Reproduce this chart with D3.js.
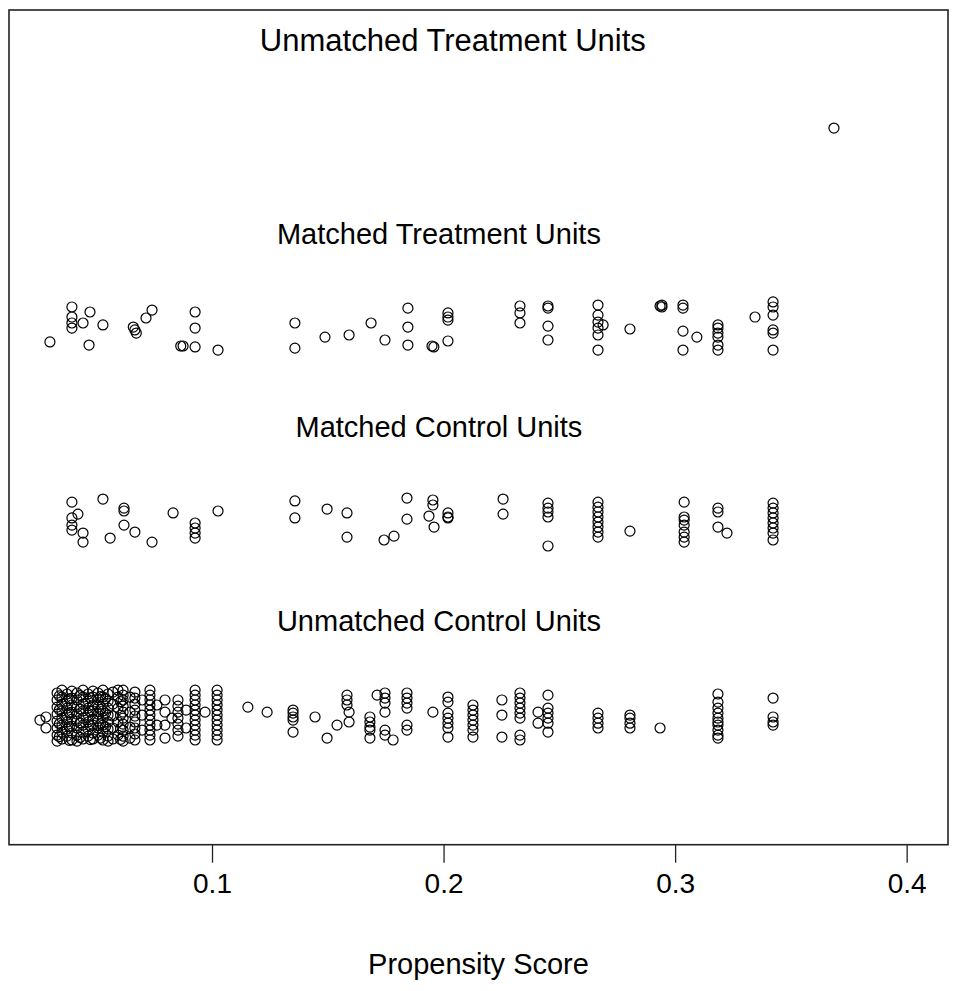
<!DOCTYPE html>
<html>
<head>
<meta charset="utf-8">
<script src="https://cdn.jsdelivr.net/npm/d3@7"></script>
<style>
  body { margin: 0; background: #fff; }
  text { font-family: "Liberation Sans", Arial, sans-serif; fill: #000; }
</style>
</head>
<body>
<div id="chart"></div>
<script>
// each entry: [propensity score, [jittered y values]]
const unmatchedTreatment = [
  [0.3686, [2.049]]
];

const matchedTreatment = [
  [0.0300, [0.942]],
  [0.0395, [1.123, 1.071, 1.040, 1.014]],
  [0.0443, [1.040]],
  [0.0469, [0.926]],
  [0.0473, [1.097]],
  [0.0529, [1.030]],
  [0.0660, [1.019]],
  [0.0667, [1.004]],
  [0.0673, [0.988]],
  [0.0715, [1.066]],
  [0.0741, [1.107]],
  [0.0865, [0.921]],
  [0.0875, [0.921]],
  [0.0927, [1.097, 1.014, 0.916]],
  [0.1026, [0.900]],
  [0.1358, [1.040, 0.910]],
  [0.1488, [0.967]],
  [0.1592, [0.978]],
  [0.1687, [1.040]],
  [0.1747, [0.952]],
  [0.1846, [1.117, 1.019, 0.926]],
  [0.1950, [0.921]],
  [0.1958, [0.916]],
  [0.2019, [1.092, 1.071, 1.055, 0.947]],
  [0.2330, [1.128, 1.092, 1.040]],
  [0.2451, [1.128, 1.117, 1.024, 0.952]],
  [0.2667, [1.133, 1.081, 1.045, 1.014, 0.978, 0.900]],
  [0.2689, [1.030]],
  [0.2805, [1.009]],
  [0.2935, [1.128]],
  [0.2943, [1.133, 1.123]],
  [0.3034, [1.133, 1.117, 0.998, 0.900]],
  [0.3094, [0.967]],
  [0.3185, [1.030, 1.014, 0.988, 0.967, 0.926, 0.900]],
  [0.3345, [1.071]],
  [0.3423, [1.149, 1.123, 1.081, 1.004, 0.988, 0.900]]
];

const matchedControl = [
  [0.0395, [0.113, 0.031, -0.006, -0.032]],
  [0.0421, [0.051]],
  [0.0443, [-0.047, -0.094]],
  [0.0529, [0.129]],
  [0.0560, [-0.073]],
  [0.0620, [0.082, 0.067, -0.006]],
  [0.0667, [-0.042]],
  [0.0741, [-0.094]],
  [0.0832, [0.057]],
  [0.0927, [0.005, -0.021, -0.047, -0.073]],
  [0.1026, [0.067]],
  [0.1358, [0.119, 0.031]],
  [0.1497, [0.077]],
  [0.1583, [0.057, -0.068]],
  [0.1743, [-0.083]],
  [0.1786, [-0.063]],
  [0.1842, [0.134, 0.025]],
  [0.1937, [0.041]],
  [0.1954, [0.124, 0.098]],
  [0.1959, [-0.016]],
  [0.2019, [0.057, 0.036, 0.031]],
  [0.2257, [0.129, 0.051]],
  [0.2451, [0.108, 0.082, 0.062, 0.036, -0.114]],
  [0.2667, [0.113, 0.087, 0.062, 0.036, 0.010, -0.016, -0.042, -0.068]],
  [0.2805, [-0.037]],
  [0.3039, [0.113, 0.036, 0.020, -0.006, -0.042, -0.068, -0.094]],
  [0.3185, [0.082, 0.062, -0.016]],
  [0.3224, [-0.047]],
  [0.3423, [0.108, 0.082, 0.057, 0.031, 0.005, -0.021, -0.047, -0.083]]
];

const unmatchedControl = [
  [0.0257, [-1.015]],
  [0.0283, [-0.999, -1.056]],
  [0.0331, [-0.875, -0.911, -0.948, -0.984, -1.020, -1.056, -1.093, -1.124]],
  [0.0341, [-0.890, -0.962, -1.034, -1.101]],
  [0.0352, [-0.860, -0.896, -0.932, -0.968, -1.005, -1.041, -1.077, -1.113]],
  [0.0374, [-0.880, -0.917, -0.953, -0.989, -1.025, -1.062, -1.098]],
  [0.0384, [-0.905, -0.978, -1.050, -1.120]],
  [0.0395, [-0.865, -0.901, -0.937, -0.974, -1.010, -1.046, -1.082, -1.118]],
  [0.0417, [-0.875, -0.911, -0.948, -0.984, -1.020, -1.056, -1.093, -1.124]],
  [0.0430, [-0.888, -0.958, -1.030, -1.105]],
  [0.0443, [-0.860, -0.896, -0.932, -0.968, -1.005, -1.041, -1.077, -1.113]],
  [0.0465, [-0.880, -0.917, -0.953, -0.989, -1.025, -1.062, -1.098]],
  [0.0475, [-0.900, -0.970, -1.045, -1.116]],
  [0.0486, [-0.865, -0.896, -0.937, -0.968, -1.010, -1.041, -1.082, -1.113]],
  [0.0508, [-0.875, -0.911, -0.948, -0.984, -1.020, -1.056, -1.093]],
  [0.0519, [-0.893, -0.960, -1.035, -1.108]],
  [0.0529, [-0.860, -0.896, -0.932, -0.968, -1.005, -1.041, -1.077, -1.118]],
  [0.0540, [-0.905, -0.980, -1.050]],
  [0.0551, [-0.880, -0.917, -0.953, -0.989, -1.025, -1.062, -1.098, -1.124]],
  [0.0572, [-0.870, -0.932, -0.994, -1.056, -1.113]],
  [0.0594, [-0.860, -0.896, -0.953, -1.025, -1.093]],
  [0.0605, [-0.920, -0.990, -1.060, -1.115]],
  [0.0616, [-0.860, -0.886, -0.911, -0.943, -0.974, -1.005, -1.036, -1.067, -1.098, -1.124]],
  [0.0646, [-0.896, -0.974, -1.051, -1.108]],
  [0.0667, [-0.870, -0.901, -0.932, -0.963, -0.994, -1.025, -1.056, -1.087, -1.118]],
  [0.0698, [-0.911, -0.989, -1.067]],
  [0.0732, [-0.860, -0.886, -0.911, -0.937, -0.963, -0.989, -1.015, -1.041, -1.067, -1.093, -1.118]],
  [0.0762, [-0.937, -1.041]],
  [0.0797, [-0.911, -0.974, -1.041, -1.108]],
  [0.0827, [-1.005]],
  [0.0853, [-0.911, -0.943, -0.974, -1.005, -1.036, -1.067, -1.098]],
  [0.0888, [-0.963, -1.056]],
  [0.0927, [-0.860, -0.886, -0.911, -0.937, -0.963, -0.989, -1.015, -1.041, -1.067, -1.093, -1.118]],
  [0.0970, [-0.974]],
  [0.1022, [-0.860, -0.886, -0.911, -0.937, -0.963, -0.989, -1.015, -1.041, -1.067, -1.093, -1.118]],
  [0.1155, [-0.948]],
  [0.1238, [-0.974]],
  [0.1350, [-0.963, -0.979, -0.999, -1.015, -1.077]],
  [0.1445, [-0.999]],
  [0.1497, [-1.108]],
  [0.1540, [-1.041]],
  [0.1583, [-0.886, -0.911, -0.937]],
  [0.1592, [-0.974, -1.025]],
  [0.1682, [-0.999, -1.025, -1.051, -1.067, -1.108]],
  [0.1713, [-0.886]],
  [0.1747, [-0.875, -0.901, -0.927, -0.974, -1.067, -1.093]],
  [0.1782, [-1.118]],
  [0.1842, [-0.875, -0.901, -0.927, -0.953, -1.041, -1.067]],
  [0.1954, [-0.974]],
  [0.2019, [-0.896, -0.922, -0.979, -1.005, -1.031, -1.056, -1.103]],
  [0.2127, [-0.937, -0.963, -0.989, -1.015, -1.041, -1.067, -1.103]],
  [0.2252, [-0.911, -0.989, -1.103]],
  [0.2330, [-0.875, -0.901, -0.927, -0.953, -0.979, -1.005, -1.093, -1.118]],
  [0.2408, [-0.974, -1.031]],
  [0.2451, [-0.886, -0.953, -0.979, -1.005, -1.031, -1.077]],
  [0.2667, [-0.979, -1.005, -1.031, -1.056]],
  [0.2805, [-0.989, -1.005, -1.031, -1.056]],
  [0.2935, [-1.056]],
  [0.3185, [-0.880, -0.922, -0.953, -0.979, -1.005, -1.025, -1.041, -1.067, -1.093, -1.108]],
  [0.3423, [-0.901, -0.999, -1.025, -1.041]]
];

// group labels: [text, x (score), y]
const groupLabels = [
  ["Unmatched Treatment Units", 0.204, 2.5],
  ["Matched Treatment Units", 0.198, 1.5],
  ["Matched Control Units", 0.198, 0.5],
  ["Unmatched Control Units", 0.198, -0.5]
];
const xTicks = [0.1, 0.2, 0.3, 0.4];
const xLabel = "Propensity Score";

const W = 960, H = 991;
const box = {left: 9, right: 948, top: 10, bottom: 844.7};

const svg = d3.select("#chart").append("svg")
  .attr("width", W)
  .attr("height", H);

const x = d3.scaleLinear().domain([0.01233, 0.41785]).range([box.left, box.right]);
const y = d3.scaleLinear().domain([-1.66, 2.66]).range([box.bottom, box.top]);

const flat = groups => groups.flatMap(([s, ys]) => ys.map(v => [s, v]));
const allPoints = [unmatchedTreatment, matchedTreatment, matchedControl, unmatchedControl].flatMap(flat);

svg.append("g")
  .selectAll("circle")
  .data(allPoints)
  .enter().append("circle")
  .attr("cx", d => x(d[0]))
  .attr("cy", d => y(d[1]))
  .attr("r", 5)
  .attr("fill", "none")
  .attr("stroke", "#000")
  .attr("stroke-width", 1.2);

// the top label is drawn a bit larger than the other three
svg.append("g")
  .selectAll("text")
  .data(groupLabels)
  .enter().append("text")
  .attr("x", d => x(d[1]))
  .attr("y", d => y(d[2]))
  .attr("text-anchor", "middle")
  .attr("dominant-baseline", "central")
  .style("font-size", (d, i) => i === 0 ? "31px" : "29px")
  .text(d => d[0]);

const axis = svg.append("g")
  .attr("transform", `translate(0,${box.bottom})`)
  .call(d3.axisBottom(x).tickValues(xTicks).tickSize(18).tickPadding(10).tickFormat(d3.format(".1f")));
axis.select(".domain").remove();
axis.selectAll(".tick line").attr("stroke", "#222").attr("stroke-width", 1.3);
axis.selectAll(".tick text").style("font-size", "28px").attr("fill", "#000");

svg.append("rect")
  .attr("x", box.left)
  .attr("y", box.top)
  .attr("width", box.right - box.left)
  .attr("height", box.bottom - box.top)
  .attr("fill", "none")
  .attr("stroke", "#222")
  .attr("stroke-width", 1.6);

svg.append("text")
  .attr("x", (box.left + box.right) / 2)
  .attr("y", 964)
  .attr("text-anchor", "middle")
  .attr("dominant-baseline", "central")
  .style("font-size", "29px")
  .text(xLabel);
</script>
</body>
</html>
